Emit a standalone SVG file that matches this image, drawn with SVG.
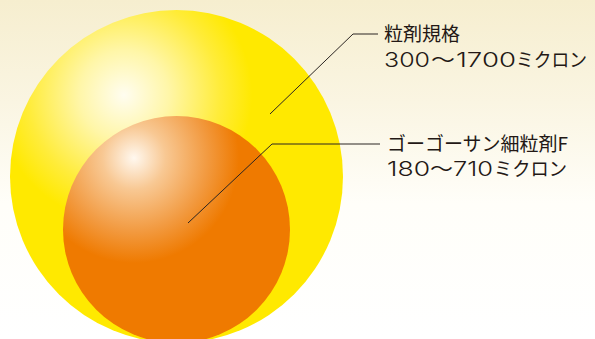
<svg xmlns="http://www.w3.org/2000/svg" width="595" height="339" viewBox="0 0 595 339">
  <defs>
    <linearGradient id="bg" x1="0" y1="0" x2="0" y2="1">
      <stop offset="0" stop-color="#f6eecf"/>
      <stop offset="0.3" stop-color="#faf5e2"/>
      <stop offset="0.6" stop-color="#fffef9"/>
      <stop offset="1" stop-color="#ffffff"/>
    </linearGradient>
    <radialGradient id="outerFill" gradientUnits="userSpaceOnUse" cx="124" cy="95" r="128" fx="124" fy="95">
      <stop offset="0" stop-color="#fffdf0"/>
      <stop offset="0.35" stop-color="#fff6a8"/>
      <stop offset="0.75" stop-color="#ffec3a"/>
      <stop offset="1" stop-color="#ffe900"/>
    </radialGradient>
    <radialGradient id="innerFill" gradientUnits="userSpaceOnUse" cx="134" cy="158" r="105" fx="134" fy="158">
      <stop offset="0" stop-color="#fff8ef"/>
      <stop offset="0.3" stop-color="#f8c893"/>
      <stop offset="0.7" stop-color="#f29a40"/>
      <stop offset="1" stop-color="#ef7a00"/>
    </radialGradient>
    <style>
      .label { font-family: "Noto Sans CJK JP", "Noto Sans", sans-serif; font-size: 19px; fill: #231815; }
      .size { font-family: Inter, "Noto Sans CJK JP", sans-serif; font-size: 20px; font-weight: 350; fill: #231815; }
      .kana { font-family: "Noto Sans CJK JP", sans-serif; font-size: 19px; font-weight: 400; }
      .leader { fill: none; stroke: #2b2522; stroke-width: 1; }
    </style>
  </defs>

  <rect x="0" y="0" width="595" height="339" fill="url(#bg)"/>

  <g id="granule-standard">
    <circle cx="176.5" cy="176.5" r="166.5" fill="url(#outerFill)"/>
  </g>

  <g id="fine-granule-f">
    <circle cx="176.5" cy="229.5" r="113.5" fill="url(#innerFill)"/>
  </g>

  <g id="connectors">
    <polyline class="leader" points="270,114 353,34 378,34"/>
    <polyline class="leader" points="188,223 272,144 380,144"/>
  </g>

  <g id="label-standard">
    <text class="label" x="384" y="41">粒剤規格</text>
    <text class="size" y="67"><tspan x="384" textLength="46" lengthAdjust="spacingAndGlyphs">300</tspan><tspan class="kana" x="431" textLength="24" lengthAdjust="spacingAndGlyphs">〜</tspan><tspan x="456" textLength="60" lengthAdjust="spacingAndGlyphs">1700</tspan><tspan class="kana" x="516" textLength="71" lengthAdjust="spacingAndGlyphs">ミクロン</tspan></text>
  </g>

  <g id="label-fine">
    <text class="label" x="387" y="151">ゴーゴーサン細粒剤F</text>
    <text class="size" y="176"><tspan x="387" textLength="43" lengthAdjust="spacingAndGlyphs">180</tspan><tspan class="kana" x="430" textLength="23" lengthAdjust="spacingAndGlyphs">〜</tspan><tspan x="453" textLength="40" lengthAdjust="spacingAndGlyphs">710</tspan><tspan class="kana" x="494" textLength="73" lengthAdjust="spacingAndGlyphs">ミクロン</tspan></text>
  </g>
</svg>
